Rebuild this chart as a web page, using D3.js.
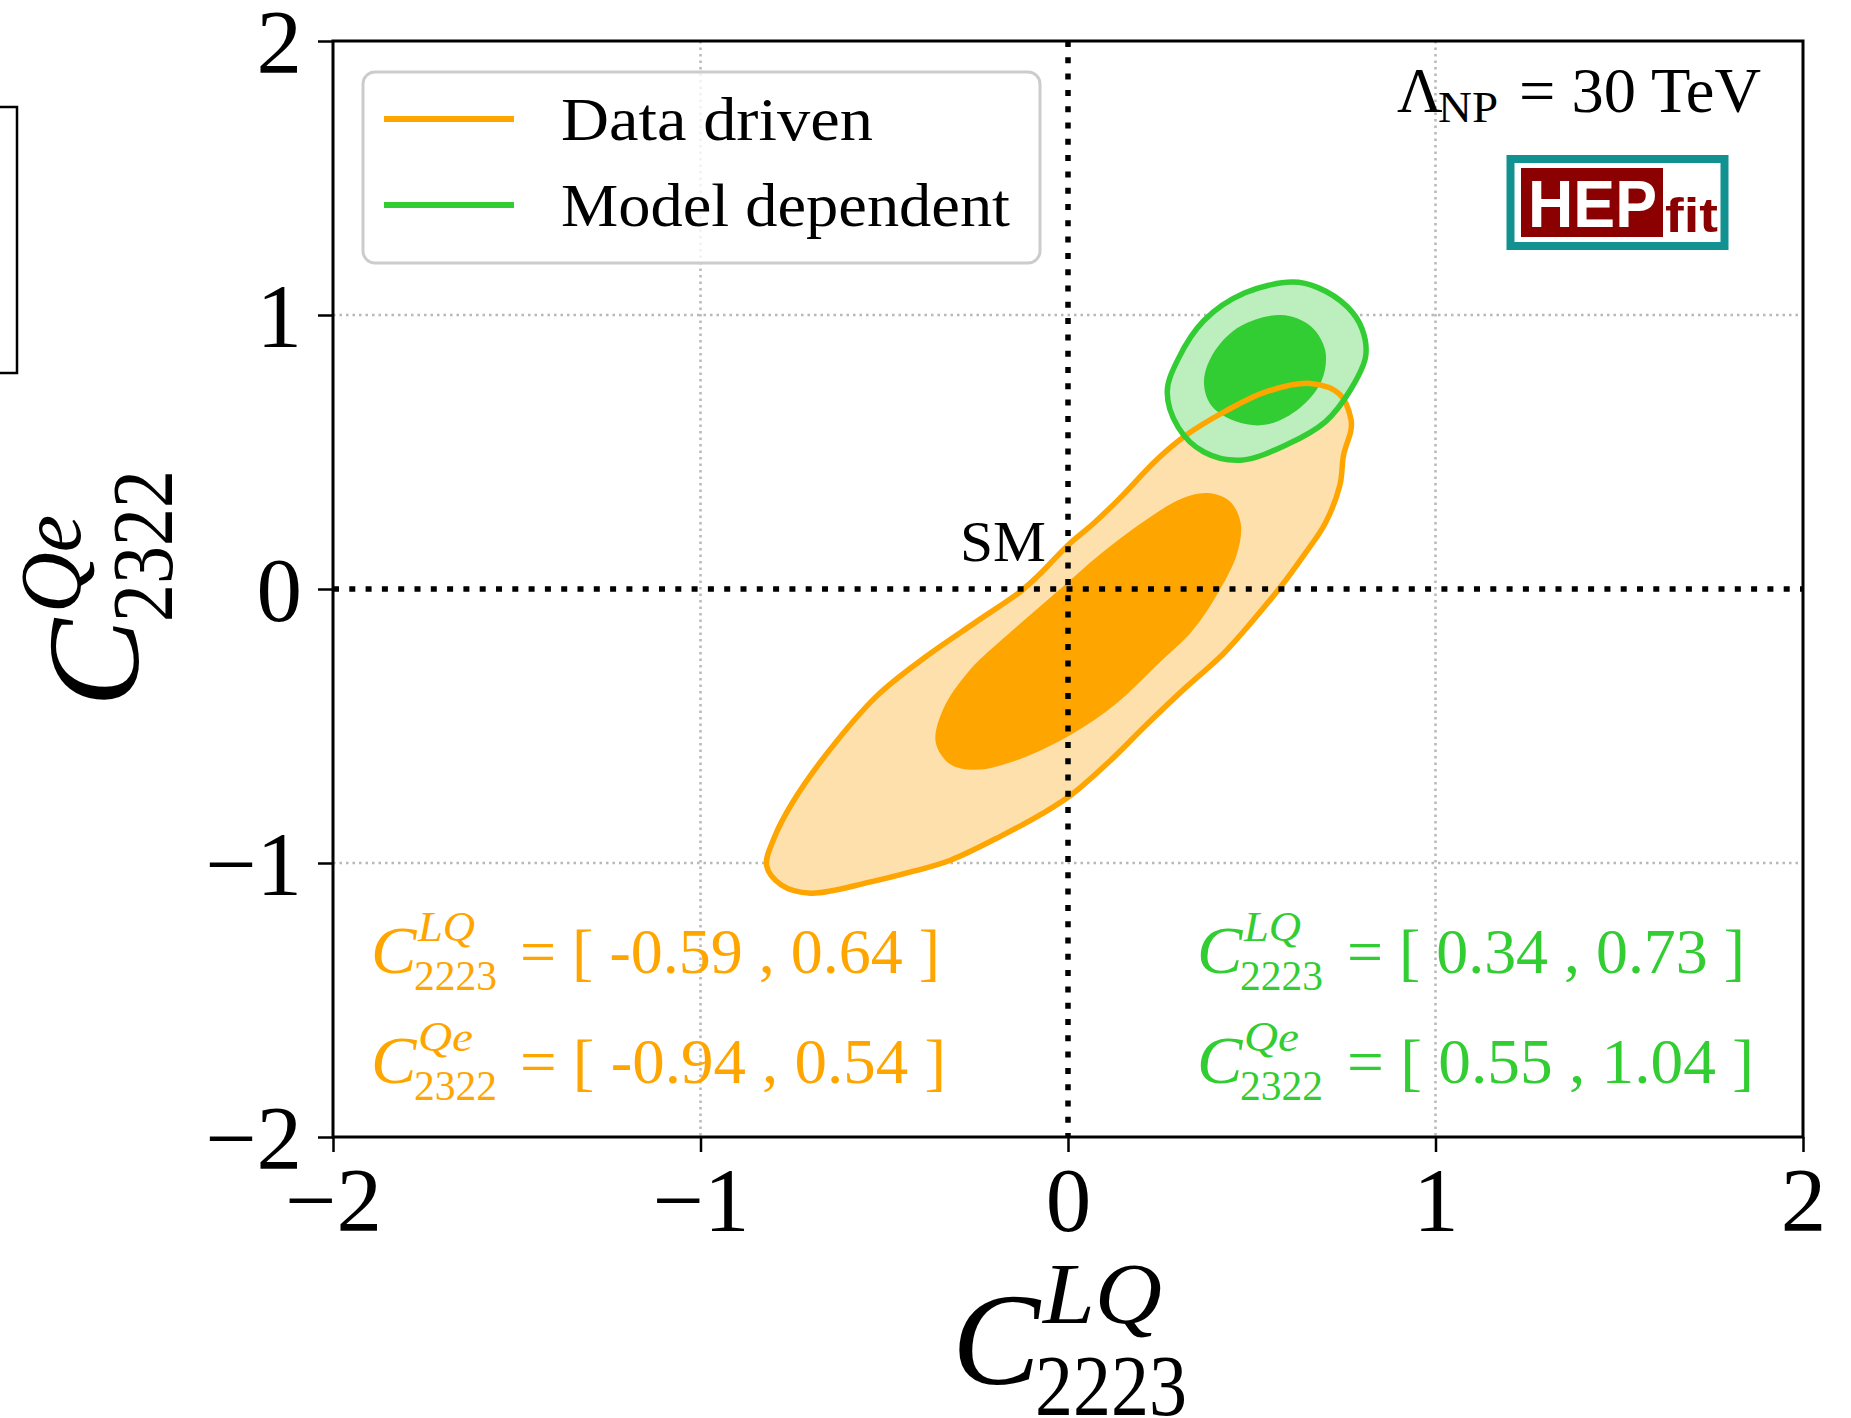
<!DOCTYPE html>
<html>
<head>
<meta charset="utf-8">
<script src="https://cdn.jsdelivr.net/npm/d3@7"></script>
<style>
  body { margin: 0; background: #fff; }
  text { font-family: "Liberation Serif", "DejaVu Serif", serif; }
</style>
</head>
<body>
<svg id="chart"></svg>
<script>
'use strict';

// axis ticks
var xTicks = [-2, -1, 0, 1, 2];
var yTicks = [-2, -1, 0, 1, 2];
var gridTicks = [-1, 1];

// contours, [C2223_LQ, C2322_Qe]
var dataDriven95 = [
    [0.66, 0.75], [0.74, 0.71], [0.77, 0.62], [0.77, 0.58], [0.75, 0.49], [0.74, 0.38],
    [0.70, 0.24], [0.64, 0.12], [0.58, 0.01], [0.50, -0.12], [0.42, -0.24], [0.32, -0.36],
    [0.21, -0.50], [0.12, -0.62], [0.01, -0.75], [-0.07, -0.82], [-0.18, -0.90], [-0.32, -0.99],
    [-0.42, -1.03], [-0.54, -1.07], [-0.70, -1.11], [-0.78, -1.08], [-0.82, -1.01], [-0.80, -0.91],
    [-0.75, -0.78], [-0.65, -0.59], [-0.52, -0.39], [-0.39, -0.25], [-0.25, -0.12], [-0.13, -0.01],
    [-0.08, 0.05], [0.00, 0.16], [0.07, 0.24], [0.14, 0.33], [0.24, 0.47], [0.32, 0.56],
    [0.43, 0.65], [0.54, 0.72]
];
var dataDriven68 = [
    [0.38, 0.35], [0.44, 0.32], [0.47, 0.24], [0.46, 0.13], [0.41, -0.01], [0.34, -0.15],
    [0.24, -0.28], [0.13, -0.42], [0.01, -0.53], [-0.13, -0.62], [-0.25, -0.66], [-0.32, -0.64],
    [-0.36, -0.56], [-0.34, -0.44], [-0.27, -0.30], [-0.15, -0.15], [-0.03, -0.01], [0.09, 0.13],
    [0.21, 0.25], [0.31, 0.33]
];
var modelDep95 = [
    [0.61, 1.12], [0.68, 1.10], [0.76, 1.03], [0.80, 0.95], [0.81, 0.85], [0.77, 0.73],
    [0.70, 0.61], [0.60, 0.53], [0.47, 0.47], [0.37, 0.50], [0.30, 0.59], [0.27, 0.72],
    [0.30, 0.84], [0.37, 0.98], [0.48, 1.08]
];
var modelDep68 = [
    [0.58, 1.00], [0.66, 0.96], [0.70, 0.87], [0.69, 0.76], [0.63, 0.66], [0.54, 0.60],
    [0.46, 0.61], [0.39, 0.67], [0.37, 0.76], [0.40, 0.87], [0.47, 0.96]
];

var seriesNames = ["Data driven", "Model dependent"];
var coeffSup = ["LQ", "Qe"];
var coeffSub = ["2223", "2322"];
var dataDrivenRanges = [["-0.59", "0.64"], ["-0.94", "0.54"]];
var modelDepRanges = [["0.34", "0.73"], ["0.55", "1.04"]];

var W = 1851, H = 1418;
var margin = {left: 333, right: 48, top: 41, bottom: 281};
var orange = "#FFA500", orangeLight = "#FDE0AC";
var green = "#32CD32", greenLight = "#BDEEBD";

var svg = d3.select("#chart").attr("width", W).attr("height", H);
svg.append("rect").attr("width", W).attr("height", H).attr("fill", "#fff");

var x = d3.scaleLinear().domain([-2, 2]).range([margin.left, W - margin.right]);
var y = d3.scaleLinear().domain([-2, 2]).range([H - margin.bottom, margin.top]);

function fmt(d) { return d < 0 ? "\u2212" + Math.abs(d) : String(d); }

// stray frame at the far left edge of the original
svg.append("rect").attr("x", -10).attr("y", 107).attr("width", 27).attr("height", 266)
    .attr("fill", "none").attr("stroke", "#000").attr("stroke-width", 2.5);

// grid
var grid = svg.append("g");
grid.selectAll(".gx").data(gridTicks).enter().append("line")
    .attr("x1", function (d) { return x(d); }).attr("x2", function (d) { return x(d); })
    .attr("y1", y(2)).attr("y2", y(-2));
grid.selectAll(".gy").data(gridTicks).enter().append("line")
    .attr("y1", function (d) { return y(d); }).attr("y2", function (d) { return y(d); })
    .attr("x1", x(-2)).attr("x2", x(2));
grid.selectAll("line").attr("stroke", "#b8b8b8").attr("stroke-width", 2.5)
    .attr("stroke-dasharray", "2.5,4");

// contours
var contour = d3.line()
    .x(function (d) { return x(d[0]); })
    .y(function (d) { return y(d[1]); })
    .curve(d3.curveCatmullRomClosed.alpha(0.5));

var plot = svg.append("g");
plot.append("path").attr("d", contour(dataDriven95)).attr("fill", orangeLight);
plot.append("path").attr("d", contour(dataDriven68)).attr("fill", orange);
plot.append("path").attr("d", contour(modelDep95)).attr("fill", greenLight);
plot.append("path").attr("d", contour(modelDep68)).attr("fill", green);
plot.append("path").attr("d", contour(dataDriven95)).attr("fill", "none")
    .attr("stroke", orange).attr("stroke-width", 5.5).attr("stroke-linejoin", "round");
plot.append("path").attr("d", contour(modelDep95)).attr("fill", "none")
    .attr("stroke", green).attr("stroke-width", 5.5).attr("stroke-linejoin", "round");

// SM lines
svg.append("line").attr("x1", x(0)).attr("x2", x(0)).attr("y1", y(2)).attr("y2", y(-2))
    .attr("stroke", "#000").attr("stroke-width", 5.5).attr("stroke-dasharray", "6,10.3");
svg.append("line").attr("y1", y(0)).attr("y2", y(0)).attr("x1", x(-2)).attr("x2", x(2))
    .attr("stroke", "#000").attr("stroke-width", 5.5).attr("stroke-dasharray", "6,10.3");

svg.append("text").attr("x", x(0) - 22).attr("y", 561).attr("text-anchor", "end")
    .attr("font-size", 58).attr("textLength", 86).attr("lengthAdjust", "spacingAndGlyphs")
    .text("SM");

// axes
var xAxis = svg.append("g").attr("transform", "translate(0," + y(-2) + ")")
    .call(d3.axisBottom(x).tickValues(xTicks).tickFormat(fmt).tickSize(15).tickSizeOuter(0));
xAxis.selectAll("text").attr("y", 94).attr("dy", 0);

var yAxis = svg.append("g").attr("transform", "translate(" + x(-2) + ",0)")
    .call(d3.axisLeft(y).tickValues(yTicks).tickFormat(fmt).tickSize(15).tickSizeOuter(0));
yAxis.selectAll("text").attr("x", -31).attr("dy", "0.35em");

svg.selectAll(".tick line").attr("stroke", "#000").attr("stroke-width", 2.5);
svg.selectAll(".tick text").attr("font-size", 91).attr("fill", "#000")
    .style("font-family", "Liberation Serif, serif");
svg.selectAll(".domain").attr("stroke", "none");

svg.append("rect").attr("x", x(-2)).attr("y", y(2))
    .attr("width", x(2) - x(-2)).attr("height", y(-2) - y(2))
    .attr("fill", "none").attr("stroke", "#000").attr("stroke-width", 3);

// C^{sup}_{sub} with an optional trailing part
function coeff(g, opt) {
    var t = g.append("g").attr("transform", opt.transform).attr("fill", opt.color || "#000");
    t.append("text").attr("x", 0).attr("y", 0).attr("font-size", opt.big)
        .attr("font-style", "italic").text("C");
    t.append("text").attr("x", opt.supX).attr("y", opt.supY).attr("font-size", opt.small)
        .attr("font-style", "italic").attr("textLength", opt.supLen)
        .attr("lengthAdjust", "spacingAndGlyphs").text(opt.sup);
    t.append("text").attr("x", opt.subX).attr("y", opt.subY).attr("font-size", opt.small)
        .attr("textLength", opt.subLen).attr("lengthAdjust", "spacingAndGlyphs").text(opt.sub);
    if (opt.rest) {
        t.append("text").attr("x", opt.restX).attr("y", 0).attr("font-size", opt.restSize)
            .attr("textLength", opt.restLen).attr("lengthAdjust", "spacingAndGlyphs").text(opt.rest);
    }
}

// axis labels
coeff(svg, {transform: "translate(952,1384)", big: 132, small: 86,
    sup: coeffSup[0], supX: 91, supY: -61, supLen: 119,
    sub: coeffSub[0], subX: 83, subY: 31, subLen: 152});
coeff(svg, {transform: "translate(138,707) rotate(-90)", big: 132, small: 86,
    sup: coeffSup[1], supX: 94, supY: -58, supLen: 98,
    sub: coeffSub[1], subX: 85, subY: 34, subLen: 152});

// interval annotations
var rowY = [973, 1083];
var blocks = [
    {ranges: dataDrivenRanges, color: orange, x0: 371, restX: 149, restLen: [420, 426]},
    {ranges: modelDepRanges, color: green, x0: 1197, restX: 150, restLen: [398, 407]}
];
blocks.forEach(function (b) {
    b.ranges.forEach(function (r, i) {
        coeff(svg, {transform: "translate(" + b.x0 + "," + rowY[i] + ")", color: b.color,
            big: 68, small: 43,
            sup: coeffSup[i], supX: 47, supY: -32, supLen: i === 0 ? 57 : 55,
            sub: coeffSub[i], subX: 43, subY: 17, subLen: 83,
            rest: "= [ " + r[0] + " , " + r[1] + " ]", restX: b.restX, restSize: 63,
            restLen: b.restLen[i]});
    });
});

// legend
var legend = svg.append("g");
legend.append("rect").attr("x", 363).attr("y", 72).attr("width", 677).attr("height", 191)
    .attr("rx", 12).attr("fill", "#fff").attr("fill-opacity", 0.8)
    .attr("stroke", "#cccccc").attr("stroke-width", 3);
var legendColors = [orange, green];
var legendY = [119, 205];
var legendLen = [312, 449];
seriesNames.forEach(function (name, i) {
    legend.append("line").attr("x1", 384).attr("x2", 514)
        .attr("y1", legendY[i]).attr("y2", legendY[i])
        .attr("stroke", legendColors[i]).attr("stroke-width", 6);
    legend.append("text").attr("x", 561).attr("y", legendY[i] + 21).attr("font-size", 61)
        .attr("textLength", legendLen[i]).attr("lengthAdjust", "spacingAndGlyphs").text(name);
});

// scale annotation
var lam = svg.append("text").attr("y", 112).attr("font-size", 63);
lam.append("tspan").attr("x", 1397).text("\u039B");
lam.append("tspan").attr("x", 1438).attr("dy", 10).attr("font-size", 44)
    .attr("textLength", 60).attr("lengthAdjust", "spacingAndGlyphs").text("NP");
svg.append("text").attr("x", 1519).attr("y", 112).attr("font-size", 63)
    .attr("textLength", 242).attr("lengthAdjust", "spacingAndGlyphs").text("= 30 TeV");

// HEPfit logo
var logo = svg.append("g");
logo.append("rect").attr("x", 1510.5).attr("y", 159).attr("width", 214).attr("height", 87)
    .attr("fill", "#fff").attr("stroke", "#129191").attr("stroke-width", 8);
logo.append("rect").attr("x", 1521).attr("y", 168).attr("width", 142).attr("height", 69)
    .attr("fill", "#8B0000");
logo.append("text").attr("x", 1528).attr("y", 227).attr("font-size", 66)
    .attr("font-weight", "bold").attr("fill", "#fff")
    .style("font-family", "Liberation Sans Narrow, Liberation Sans, Arial, sans-serif")
    .attr("textLength", 129).attr("lengthAdjust", "spacingAndGlyphs").text("HEP");
logo.append("text").attr("x", 1665).attr("y", 232).attr("font-size", 48)
    .attr("font-weight", "bold").attr("fill", "#8B0000")
    .style("font-family", "Liberation Sans Narrow, Liberation Sans, Arial, sans-serif")
    .attr("textLength", 53).attr("lengthAdjust", "spacingAndGlyphs").text("fit");
</script>
</body>
</html>
